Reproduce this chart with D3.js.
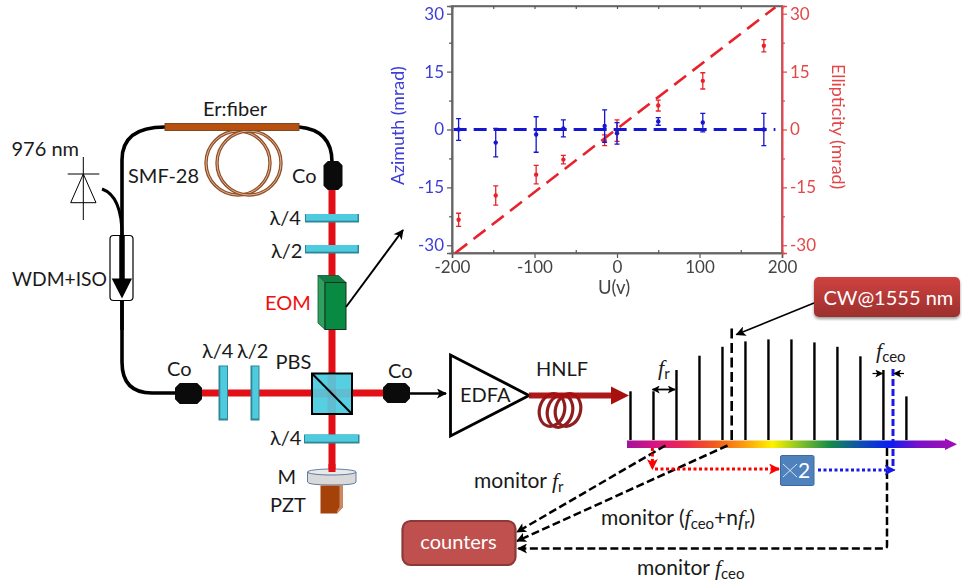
<!DOCTYPE html>
<meta charset="utf-8">
<style>
html, body { margin: 0; background: #fff; }
svg { display: block; }
text { font-family: Lato, "Open Sans", sans-serif; font-size: 20px; fill: #1a1a1a; }
.sub { font-size: 15px; }
.azi text { fill: #3d3dd8; }
.ell text { fill: #e2474a; }
.bot text { fill: #444; }
</style>
<svg width="962" height="585"></svg>
<script src="https://d3js.org/d3.v7.min.js"></script>
<script>

// inset: polarisation vs EOM voltage
var voltage = [-192, -147, -98, -65, -15, 0, 50, 104, 178];
var azimuth = [0, -3.4, -1.3, 0.3, 0.9, -1, 2.1, 1.8, 0];
var azimuthErr = [2.8, 3.7, 4.6, 2.2, 4.2, 2.8, 1.0, 2.4, 4.2];
var ellipticity = [-23.4, -17.1, -11.7, -7.8, -2.8, -0.3, 6.2, 12.6, 21.7];
var ellipticityErr = [1.7, 2.5, 2.4, 1.1, 1.4, 2.8, 1.4, 2.1, 1.6];
var azimuthFit = [[-198, 0], [192, 0]];
var ellipticityFit = [[-196, -32], [192, 31.7]];
var xTicks = [-200, -100, 0, 100, 200];
var yTicks = [-30, -15, 0, 15, 30];
var yMinor = [-22.5, -7.5, 7.5, 22.5];
var xMinor = [-150, -50, 50, 150];

// frequency comb lines, index and relative height
var combIndex = [0, 1, 2, 3, 4, 5, 6, 7, 8, 9, 10, 11, 12];
var combHeight = [48.7, 48.7, 70, 84.3, 93.2, 98.6, 100.6, 100.6, 97.6, 93.2, 83.7, 70, 43.6];

var rainbowColors = ["#a3129c", "#d8167f", "#ec2a4e", "#ef5a1e", "#fb9a10", "#fff200", "#7fbf2a", "#138a4c", "#0f50b0", "#0a1ff0", "#7a10c8", "#9a10b8"];

var svg = d3.select("svg"),
    defs = svg.append("defs");

defs.append("filter").attr("id", "soft").append("feGaussianBlur").attr("stdDeviation", 0.45);
defs.append("filter").attr("id", "glow").append("feGaussianBlur").attr("stdDeviation", 1.2);
var shadow = defs.append("filter").attr("id", "shadow");
shadow.append("feDropShadow").attr("dx", 0).attr("dy", 2).attr("stdDeviation", 1.5).attr("flood-opacity", 0.4);

var rainbow = defs.append("linearGradient").attr("id", "rainbow");
rainbow.selectAll("stop").data(rainbowColors).enter().append("stop")
    .attr("offset", function(d, i) { return i / (rainbowColors.length - 1); })
    .attr("stop-color", function(d) { return d; });

var redBox = defs.append("linearGradient").attr("id", "redbox").attr("x2", 0).attr("y2", 1);
redBox.append("stop").attr("offset", 0).attr("stop-color", "#cf4340");
redBox.append("stop").attr("offset", 1).attr("stop-color", "#9c2f2d");

function marker(id, color, w, h) {
  defs.append("marker").attr("id", id)
      .attr("viewBox", "0 0 10 10").attr("refX", 9).attr("refY", 5)
      .attr("markerUnits", "userSpaceOnUse")
      .attr("markerWidth", w).attr("markerHeight", h)
      .attr("orient", "auto-start-reverse")
    .append("path").attr("d", "M0,0L10,5L0,10L2.5,5Z").attr("fill", color);
}
marker("headBlack", "#000", 11, 10);
marker("headThin", "#000", 9, 8);
marker("headRed", "#f00", 11, 11);
marker("headBlue", "#1a1ae6", 11, 11);

function path(d, color, width, dash, end, start) {
  var p = svg.append("path").attr("d", d).attr("fill", "none")
      .attr("stroke", color).attr("stroke-width", width);
  if (dash) p.attr("stroke-dasharray", dash);
  if (end) p.attr("marker-end", "url(#" + end + ")");
  if (start) p.attr("marker-start", "url(#" + start + ")");
  return p;
}

function label(str, x, y, opts) {
  opts = opts || {};
  var t = svg.append("text").attr("x", x).attr("y", y).text(str);
  if (opts.color) t.style("fill", opts.color);
  if (opts.size) t.style("font-size", opts.size + "px");
  if (opts.anchor) t.attr("text-anchor", opts.anchor);
  return t;
}

// text with italic f and subscripts: parts are [string, "i" | "s" | "u" | ""]
function rich(parts, x, y, size) {
  var t = svg.append("text").attr("x", x).attr("y", y);
  if (size) t.style("font-size", size + "px");
  parts.forEach(function(p) {
    var s = t.append("tspan").text(p[0]);
    if (p[1] == "i") s.style("font-family", "'Liberation Serif'").style("font-style", "italic").style("font-size", "22px");
    if (p[1] == "s") s.attr("class", "sub").attr("dy", 4);
    if (p[1] == "u") s.attr("dy", -4);
  });
  return t;
}

function beam(d) {
  path(d, "#7a2a2a", 12).attr("filter", "url(#glow)").attr("opacity", 0.8);
  path(d, "#e30f16", 7);
}

function plate(x, y, w, h) {
  svg.append("rect").attr("x", x).attr("y", y).attr("width", w).attr("height", h)
      .attr("fill", "#2f8796");
  var inset = 1.8;
  if (w > h) svg.append("rect").attr("x", x + 1).attr("y", y).attr("width", w - 2.5).attr("height", h - inset)
      .attr("fill", "#4fcbe0");
  else svg.append("rect").attr("x", x + inset).attr("y", y + 1).attr("width", w - inset - 1).attr("height", h - 3)
      .attr("fill", "#4fcbe0");
}

function collimator(x, y, w, h) {
  var c = Math.min(w, h) * 0.22;
  svg.append("path")
      .attr("d", "M" + (x + c) + "," + y + "H" + (x + w - c) + "L" + (x + w) + "," + (y + c) + "V" + (y + h - c) +
                 "L" + (x + w - c) + "," + (y + h) + "H" + (x + c) + "L" + x + "," + (y + h - c) + "V" + (y + c) + "Z")
      .attr("fill", "#0b0b0b").attr("stroke", "#0b0b0b").attr("stroke-linejoin", "round").attr("stroke-width", 2);
}

// ---- laser cavity ----
path("M175,393H152Q122,393 122,362V160Q122,127 165,127", "#000", 3.6);
path("M299,127Q332,130 332,162", "#000", 3.6);
path("M102,189Q122,196 122,236", "#000", 3);

[238, 249].forEach(function(cx) {
  svg.append("circle").attr("cx", cx).attr("cy", 163).attr("r", 32)
      .attr("fill", "none").attr("stroke", "#8f4f28").attr("stroke-width", 3.4);
  svg.append("circle").attr("cx", cx).attr("cy", 163).attr("r", 32)
      .attr("fill", "none").attr("stroke", "#e0b595").attr("stroke-width", 1);
});
svg.append("rect").attr("x", 165).attr("y", 123.5).attr("width", 134).attr("height", 7)
    .attr("fill", "#b8500f").attr("stroke", "#7a4a25").attr("stroke-width", 1);

// pump diode
path("M83.3,157V220M67.7,174H99.3", "#000", 1);
path("M83.3,174L70.7,202.7H96Z", "#000", 1);

// WDM + isolator
svg.append("rect").attr("x", 110).attr("y", 235.5).attr("width", 23).attr("height", 65).attr("rx", 3.5)
    .attr("fill", "#fff").attr("stroke", "#000").attr("stroke-width", 1.2);
path("M122,235V280", "#000", 5.5);
svg.append("path").attr("d", "M111.7,278.5H132L122,298.5Z").attr("fill", "#000");
path("M122,300V330", "#000", 3.6);

// free space beams
beam("M332,189V472");
beam("M201,393H384");

plate(305, 214, 54, 8.5);
plate(305, 245, 54, 8.5);
plate(218.5, 365.5, 9.5, 55);
plate(250.5, 365.5, 9, 55);
plate(304, 434.5, 55.5, 9);

collimator(324.5, 162, 17, 27);
collimator(176, 384, 25, 19);
collimator(384, 384, 25, 18);

// EOM
svg.append("path").attr("d", "M318,275.5H338.5L346,282.5H325Z").attr("fill", "#0f7e40").attr("stroke", "#14532d").attr("stroke-width", 0.8);
svg.append("path").attr("d", "M318,275.5L325,282.5V329.5L318,323Z").attr("fill", "#30a060").attr("stroke", "#14532d").attr("stroke-width", 0.8);
svg.append("rect").attr("x", 325).attr("y", 282.5).attr("width", 21).attr("height", 47).attr("fill", "#088a42").attr("stroke", "#14301f").attr("stroke-width", 1);

// PBS
svg.append("rect").attr("x", 312).attr("y", 373.5).attr("width", 40).attr("height", 40.5)
    .attr("fill", "#57cfe3").attr("stroke", "#000").attr("stroke-width", 2);
svg.append("rect").attr("x", 327.5).attr("y", 374.5).attr("width", 8.5).attr("height", 38.5).attr("fill", "#7a8f9a").attr("opacity", 0.28);
svg.append("rect").attr("x", 313).attr("y", 389).attr("width", 38).attr("height", 8.5).attr("fill", "#7a8f9a").attr("opacity", 0.28);
path("M312,373.5L352,414", "#000", 2);

// mirror and PZT
svg.append("path").attr("d", "M307.5,472V482Q307.5,485 332,485Q356,485 356,482V472Z").attr("fill", "#d9d9d9").attr("stroke", "#3f5f92").attr("stroke-width", 0.8);
svg.append("ellipse").attr("cx", 331.8).attr("cy", 472).attr("rx", 24.3).attr("ry", 3)
    .attr("fill", "#e9e9e9").attr("stroke", "#3f5f92").attr("stroke-width", 0.8);
path("M332,464V472", "#e30f16", 7);
svg.append("path").attr("d", "M320.5,485.5H342.7V507.5L337,513.5H320.5Z").attr("fill", "#a5420a");
svg.append("path").attr("d", "M339.5,485.5H342.7V507.5L337,513.5V511L339.5,507Z").attr("fill", "#c98a64");

// cavity labels
label("976 nm", 11.5, 156);
label("Er:fiber", 235, 116, {anchor: "middle"});
label("SMF-28", 128, 183);
label("Co", 292, 183);
label("λ/4", 269.5, 225);
label("λ/2", 271, 258);
label("WDM+ISO", 12, 286, {size: 19.3});
label("EOM", 265, 310, {color: "#f01010"});
label("Co", 167, 376);
label("λ/4", 202, 357.5);
label("λ/2", 237, 357.5);
label("PBS", 275.5, 369);
label("Co", 388, 378);
label("λ/4", 270, 445);
label("M", 277.5, 484);
label("PZT", 270, 511.5);

// pointer from EOM to the inset
path("M346,307L403,230", "#000", 2, null, "headBlack");

// ---- amplifier and HNLF ----
path("M410,393.5H446", "#000", 2.5, null, "headBlack");
svg.append("path").attr("d", "M450.5,355V436L529,395.5Z").attr("fill", "#fff").attr("stroke", "#000").attr("stroke-width", 2.8);
label("EDFA", 460, 402);
label("HNLF", 536, 376);
[[552, 410], [560, 411], [568, 410]].forEach(function(c) {
  svg.append("ellipse").attr("cx", c[0]).attr("cy", c[1]).attr("rx", 12.5).attr("ry", 16.5)
      .attr("transform", "rotate(15," + c[0] + "," + c[1] + ")")
      .attr("fill", "none").attr("stroke", "#8f1f1f").attr("stroke-width", 3.2);
});
path("M529,395.5H612", "#a80f0f", 6).attr("opacity", 0.95);
svg.append("path").attr("d", "M611,386.5L629,395.5L611,404.5Z").attr("fill", "#a80f0f");

// ---- comb ----
var combX = d3.scaleLinear().domain([0, 12]).range([630.5, 906.4]);
var combY = d3.scaleLinear().domain([0, 100.6]).range([440, 339.4]);

svg.append("g").selectAll("line").data(combIndex).enter().append("line")
    .attr("x1", function(d) { return combX(d); })
    .attr("x2", function(d) { return combX(d); })
    .attr("y1", combY(0))
    .attr("y2", function(d, i) { return combY(combHeight[i]); })
    .attr("stroke", "#000").attr("stroke-width", 2.4);

path("M731.7,440V328.5", "#000", 2.6, "10 4.5");

svg.append("rect").attr("x", 627).attr("y", 440.5).attr("width", 320).attr("height", 7.5).attr("fill", "url(#rainbow)");
svg.append("path").attr("d", "M945,438.5L957,444.2L945,450Z").attr("fill", "#9a10b8");

path("M893,369V471", "#1a1ae6", 3, "7 3");
path("M887,448V546Q887,548.5 884,548.5H518", "#000", 2.5, "8 3.5", "headBlack");
path("M665.5,445.5L517,532", "#000", 2.5, "8 3.5", "headBlack");
path("M727.5,445.5L517,541", "#000", 2.5, "8 3.5", "headBlack");

path("M652.4,448V469", "#f00", 3, "3 2.5", "headRed");
path("M655,469H779", "#f00", 3, "3 2.5", "headRed");
path("M818,470H894.5", "#1a1ae6", 3, "3 2.5", "headBlue");

svg.append("rect").attr("x", 780.5).attr("y", 455.5).attr("width", 33.5).attr("height", 30).attr("rx", 1.5)
    .attr("fill", "#4f81bd").attr("stroke", "#3d6a9e").attr("stroke-width", 1);
path("M783,464L797,477M797,464L783,477", "#e8eef6", 0.9);
label("2", 798, 478, {color: "#fff", size: 21});

path("M652.5,389.5H675", "#000", 1.8, null, "headThin", "headThin");
rich([["f", "i"], ["r", "s"]], 658, 375);
rich([["f", "i"], ["ceo", "s"]], 876, 358);
path("M872.5,373.5H882.5", "#000", 1.2, null, "headThin");
path("M904,373.5H894", "#000", 1.2, null, "headThin");

// CW pointer and box
path("M814,303L736.5,334.5", "#000", 1.6, null, "headBlack");
svg.append("rect").attr("x", 814).attr("y", 277).attr("width", 146).attr("height", 40).attr("rx", 5)
    .attr("fill", "url(#redbox)").attr("filter", "url(#shadow)");
label("CW@1555 nm", 823.5, 305, {color: "#fff"});

// counters
svg.append("rect").attr("x", 402.5).attr("y", 521).attr("width", 113).attr("height", 44).attr("rx", 8)
    .attr("fill", "#c0504d").attr("stroke", "#8c3a38").attr("stroke-width", 2.2);
label("counters", 458.5, 549, {color: "#fff", anchor: "middle"});

rich([["monitor ", ""], ["f", "i"], ["r", "s"]], 474, 488, 21);
rich([["monitor (", ""], ["f", "i"], ["ceo", "s"], ["+n", "u"], ["f", "i"], ["r", "s"], [")", "u"]], 601, 525, 21);
rich([["monitor ", ""], ["f", "i"], ["ceo", "s"]], 637, 575, 21);

// ---- inset chart ----
var x = d3.scaleLinear().domain([-200, 200]).range([452, 782]),
    y = d3.scaleLinear().domain([-32, 32]).range([253, 6]);

var inset = svg.append("g").attr("filter", "url(#soft)");

inset.append("rect").attr("x", x(-200)).attr("y", y(32)).attr("width", x(200) - x(-200)).attr("height", y(-32) - y(32))
    .attr("fill", "none").attr("stroke", "#666").attr("stroke-width", 1.6);

var hyphen = function(d) { return String(d); };

var bottom = inset.append("g").attr("class", "bot").attr("transform", "translate(0," + y(-32) + ")")
    .call(d3.axisBottom(x).tickValues(xTicks).tickSize(5).tickPadding(3).tickFormat(hyphen));
inset.append("g").attr("transform", "translate(0," + y(-32) + ")")
    .call(d3.axisTop(x).tickValues(xMinor).tickSize(3).tickFormat(""));
inset.append("g").attr("transform", "translate(0," + y(32) + ")")
    .call(d3.axisBottom(x).tickValues(xTicks.concat(xMinor)).tickSize(3).tickFormat(""));

var left = inset.append("g").attr("class", "azi").attr("transform", "translate(" + x(-200) + ",0)")
    .call(d3.axisLeft(y).tickValues(yTicks).tickSize(5).tickPadding(3).tickFormat(hyphen));
inset.append("g").attr("transform", "translate(" + x(-200) + ",0)")
    .call(d3.axisLeft(y).tickValues(yMinor).tickSize(3).tickFormat(""));

var right = inset.append("g").attr("class", "ell").attr("transform", "translate(" + x(200) + ",0)")
    .call(d3.axisRight(y).tickValues(yTicks).tickSize(5).tickPadding(3).tickFormat(hyphen));
var rightMinor = inset.append("g").attr("transform", "translate(" + x(200) + ",0)")
    .call(d3.axisRight(y).tickValues(yMinor).tickSize(3).tickFormat(""));

inset.selectAll(".domain").attr("stroke", "#666").attr("stroke-width", 1.6);
inset.selectAll(".tick line").attr("stroke", "#555").attr("stroke-width", 1.2);
inset.selectAll(".tick text").style("font-size", "17px");
right.selectAll(".domain, .tick line").attr("stroke", "#e2474a");
rightMinor.selectAll(".domain, .tick line").attr("stroke", "#e2474a");

var fitLine = d3.line().x(function(d) { return x(d[0]); }).y(function(d) { return y(d[1]); });

function series(values, errs, color) {
  var g = inset.append("g");
  g.selectAll("path.err").data(values).enter().append("path").attr("class", "err")
      .attr("d", function(d, i) {
        var px = x(voltage[i]), lo = y(d - errs[i]), hi = y(d + errs[i]);
        return "M" + (px - 2.5) + "," + lo + "H" + (px + 2.5) + "M" + px + "," + lo + "V" + hi + "M" + (px - 2.5) + "," + hi + "H" + (px + 2.5);
      })
      .attr("fill", "none").attr("stroke", color).attr("stroke-width", 1.3);
  g.selectAll("circle").data(values).enter().append("circle")
      .attr("cx", function(d, i) { return x(voltage[i]); })
      .attr("cy", function(d) { return y(d); })
      .attr("r", 2.2).attr("fill", color);
}

inset.append("path").attr("d", fitLine(ellipticityFit)).attr("fill", "none")
    .attr("stroke", "#e8242c").attr("stroke-width", 2.6).attr("stroke-dasharray", "15 8");
series(ellipticity, ellipticityErr, "#e8242c");
series(azimuth, azimuthErr, "#1414d0");
inset.append("path").attr("d", fitLine(azimuthFit)).attr("fill", "none")
    .attr("stroke", "#1414d0").attr("stroke-width", 2.8).attr("stroke-dasharray", "13 7");

inset.append("text").attr("x", 614).attr("y", 294).attr("text-anchor", "middle").style("fill", "#444").style("font-size", "18.5px").text("U(v)");
inset.append("text").attr("transform", "translate(404,185) rotate(-90)").style("fill", "#3d3dd8").style("font-size", "17.8px").text("Azimuth (mrad)");
inset.append("text").attr("transform", "translate(832,64) rotate(90)").style("fill", "#e2474a").style("font-size", "17.8px").text("Ellipticity (mrad)");

</script>
